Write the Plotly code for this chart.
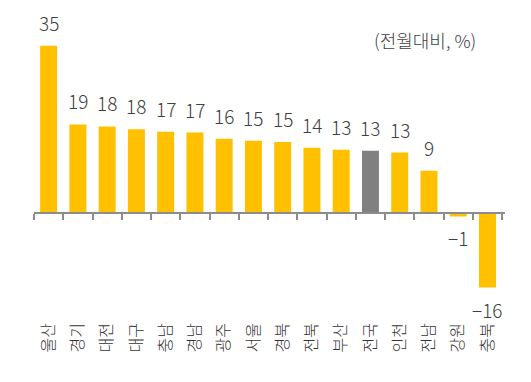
import plotly.graph_objects as go

regions = ["울산", "경기", "대전", "대구", "충남", "경남", "광주", "서울", "경북",
           "전북", "부산", "전국", "인천", "전남", "강원", "충북"]
values = [35.0, 18.5, 18.1, 17.5, 17.0, 16.8, 15.5, 15.1, 14.8,
          13.6, 13.2, 13.0, 12.6, 8.8, -0.8, -15.7]
value_labels = ["35", "19", "18", "18", "17", "17", "16", "15", "15",
                "14", "13", "13", "13", "9", "−1", "−16"]
highlight = "전국"
unit_text = "(전월대비, %)"

YMIN, YMAX = -20, 40
colors = ["#808080" if r == highlight else "#FFC000" for r in regions]
font_family = "Noto Sans CJK KR, Noto Sans, sans-serif"

fig = go.Figure(go.Bar(x=regions, y=values, marker=dict(color=colors, line=dict(width=0)),
                       hoverinfo="skip"))

for r, v, t in zip(regions, values, value_labels):
    fig.add_annotation(x=r, y=v, text=t, showarrow=False,
                       yanchor="bottom" if v >= 0 else "top",
                       yshift=8 if v >= 0 else -6,
                       font=dict(size=19, color="#404040", family=font_family, weight=300))

fig.add_annotation(xref="paper", yref="paper", x=0.943, y=0.937, text=unit_text,
                   showarrow=False, xanchor="right", yanchor="middle",
                   font=dict(size=18, color="#404040", family=font_family, weight=300))

fig.update_layout(
    width=523, height=374,
    margin=dict(l=25.5, r=26, t=14, b=73.6, autoexpand=False),
    paper_bgcolor="white", plot_bgcolor="white",
    bargap=0.42, showlegend=False,
    xaxis=dict(anchor="free", position=(0 - YMIN) / (YMAX - YMIN), automargin=False,
               showline=True, linecolor="#8c8c8c", linewidth=2,
               ticks="outside", tickson="boundaries", ticklen=6, tickwidth=1.5,
               tickcolor="#8c8c8c", tickangle=-90, ticklabelstandoff=103,
               tickfont=dict(size=16, color="#333333", family=font_family, weight=300),
               showgrid=False, zeroline=False),
    yaxis=dict(range=[YMIN, YMAX], visible=False, showgrid=False, zeroline=False,
               automargin=False),
)

fig.write_html("out.html")
